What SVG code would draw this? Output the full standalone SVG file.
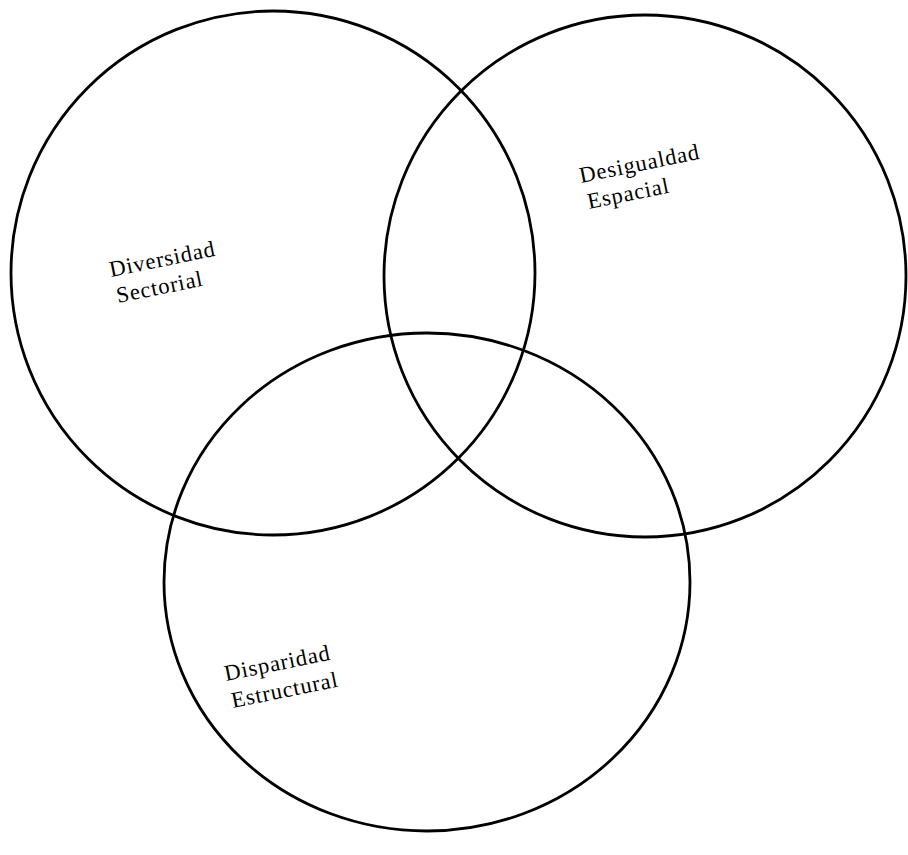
<svg xmlns="http://www.w3.org/2000/svg" width="908" height="855" viewBox="0 0 908 855">
<style>
.c{fill:none;stroke:#000;stroke-width:2.8}
.t{font-family:"Liberation Serif","DejaVu Serif",serif;font-size:22.5px;letter-spacing:0.9px;fill:#000}
</style>
<rect width="908" height="855" fill="#fff"/>
<g id="diversidad">
<circle class="c" cx="273" cy="273" r="262"/>
<text class="t" transform="rotate(-11.5 111 277)" x="111" y="277">Diversidad</text>
<text class="t" transform="rotate(-11.5 118 303)" x="118" y="303">Sectorial</text>
</g>
<g id="desigualdad">
<circle class="c" cx="645" cy="276" r="261"/>
<text class="t" transform="rotate(-11.5 581 183)" x="581" y="183">Desigualdad</text>
<text class="t" transform="rotate(-11.5 589 209)" x="589" y="209">Espacial</text>
</g>
<g id="disparidad">
<ellipse class="c" cx="427" cy="582" rx="263" ry="249"/>
<text class="t" transform="rotate(-11.5 226 681)" x="226" y="681">Disparidad</text>
<text class="t" transform="rotate(-11.5 233 708)" x="233" y="708">Estructural</text>
</g>
</svg>
